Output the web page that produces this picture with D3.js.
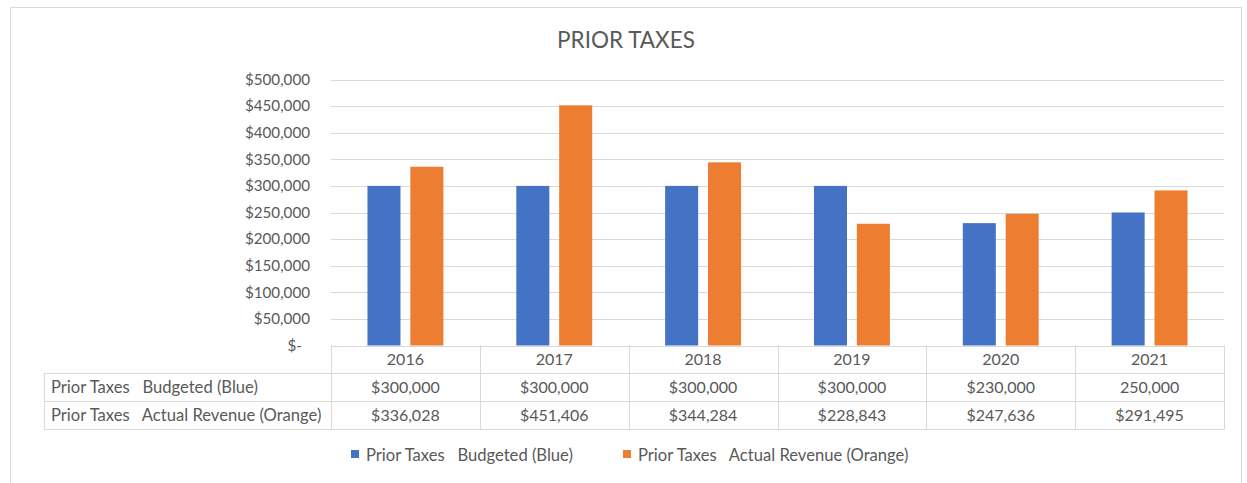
<!DOCTYPE html>
<html>
<head>
<meta charset="utf-8">
<script src="https://cdn.jsdelivr.net/npm/d3@7"></script>
<style>
  html, body { margin: 0; padding: 0; background: #fff; }
  svg { display: block; font-family: Lato, "Open Sans", sans-serif; }
  text { white-space: pre; }
</style>
</head>
<body>
<svg id="chart" width="1247" height="483"></svg>
<script>
// Prior taxes: budgeted vs. actual revenue by year
const years = ["2016", "2017", "2018", "2019", "2020", "2021"];
const budgeted = [300000, 300000, 300000, 300000, 230000, 250000];
const actual = [336028, 451406, 344284, 228843, 247636, 291495];
const budgetedLabels = ["$300,000", "$300,000", "$300,000", "$300,000", "$230,000", "250,000"];
const actualLabels = ["$336,028", "$451,406", "$344,284", "$228,843", "$247,636", "$291,495"];
const seriesNames = ["Prior Taxes   Budgeted (Blue)", "Prior Taxes   Actual Revenue (Orange)"];
const yTicks = [0, 50000, 100000, 150000, 200000, 250000, 300000, 350000, 400000, 450000, 500000];

const colors = ["#4472C4", "#ED7D31"];
const textColor = "#595959";
const lineColor = "#d9d9d9";
const numberSize = 16;
const nameSize = 16.6;

const svg = d3.select("#chart");
svg.append("rect").attr("width", 1247).attr("height", 483).attr("fill", "#fff");

// chart frame
svg.append("rect")
  .attr("x", 10.5).attr("y", 7.5).attr("width", 1231).attr("height", 490)
  .attr("fill", "none").attr("stroke", lineColor);

// title
svg.append("text")
  .attr("x", 626).attr("y", 48)
  .attr("text-anchor", "middle")
  .attr("font-size", 22.5)
  .attr("fill", textColor)
  .text("PRIOR TAXES");

const x = d3.scaleBand().domain(years).range([331, 1224]);
const y = d3.scaleLinear().domain([0, 500000]).range([345.5, 79.5]);
const xSeries = d3.scaleBand().domain([0, 1]).range([0, x.bandwidth()])
  .paddingInner(0.23).paddingOuter(0.85);

// horizontal gridlines
svg.append("g").selectAll("line").data(yTicks).join("line")
  .attr("x1", x.range()[0]).attr("x2", x.range()[1])
  .attr("y1", d => Math.round(y(d)) + 0.5).attr("y2", d => Math.round(y(d)) + 0.5)
  .attr("stroke", lineColor);

// value axis labels
const fmt = d3.format(",");
const yAxis = d3.axisLeft(y).tickValues(yTicks).tickSize(0).tickPadding(0)
  .tickFormat(d => d === 0 ? "$-" : "$" + fmt(d));
const yg = svg.append("g").attr("transform", "translate(310,0)").call(yAxis);
yg.select(".domain").remove();
yg.selectAll("text")
  .attr("font-size", 15.2).attr("fill", textColor)
  .attr("font-family", "Lato, 'Open Sans', sans-serif")
  .attr("dx", d => d === 0 ? -8 : 0);

// bars
const seriesValues = [budgeted, actual];
seriesValues.forEach((vals, si) => {
  svg.append("g").selectAll("rect").data(years).join("rect")
    .attr("x", d => x(d) + xSeries(si))
    .attr("width", xSeries.bandwidth())
    .attr("y", (d, i) => y(vals[i]))
    .attr("height", (d, i) => y(0) - y(vals[i]))
    .attr("fill", colors[si]);
});

// data table
const rowTop = 345.5, rowH = 28;
const table = svg.append("g").attr("stroke", lineColor).attr("fill", "none");
// column dividers
const colEdges = years.map(d => x(d)).concat([x.range()[1]]);
table.selectAll("line.v").data(colEdges).join("line")
  .attr("x1", d => Math.round(d) + 0.5).attr("x2", d => Math.round(d) + 0.5)
  .attr("y1", rowTop).attr("y2", rowTop + rowH * 3);
// row lines
[1, 2, 3].forEach(r => {
  table.append("line")
    .attr("x1", 44).attr("x2", x.range()[1])
    .attr("y1", rowTop + rowH * r).attr("y2", rowTop + rowH * r);
});
table.append("line")
  .attr("x1", 44.5).attr("x2", 44.5)
  .attr("y1", rowTop + rowH).attr("y2", rowTop + rowH * 3);

const cellText = svg.append("g")
  .attr("font-size", numberSize).attr("fill", textColor).attr("text-anchor", "middle");
const rows = [years, budgetedLabels, actualLabels];
rows.forEach((vals, r) => {
  cellText.append("g").selectAll("text").data(vals).join("text")
    .attr("x", (d, i) => x(years[i]) + x.bandwidth() / 2)
    .attr("y", rowTop + rowH * r + rowH / 2)
    .attr("dy", "0.36em")
    .text(d => d);
});
seriesNames.forEach((name, si) => {
  svg.append("text")
    .attr("x", 51).attr("y", rowTop + rowH * (si + 1) + rowH / 2)
    .attr("dy", "0.36em")
    .attr("font-size", nameSize).attr("fill", textColor)
    .text(name);
});

// legend
const legendX = [351, 623];
const legend = svg.append("g");
seriesNames.forEach((name, si) => {
  legend.append("rect")
    .attr("x", legendX[si]).attr("y", 450)
    .attr("width", 8).attr("height", 8)
    .attr("fill", colors[si]);
  legend.append("text")
    .attr("x", legendX[si] + 15).attr("y", 455)
    .attr("dy", "0.36em")
    .attr("font-size", nameSize).attr("fill", textColor)
    .text(name);
});
</script>
</body>
</html>
